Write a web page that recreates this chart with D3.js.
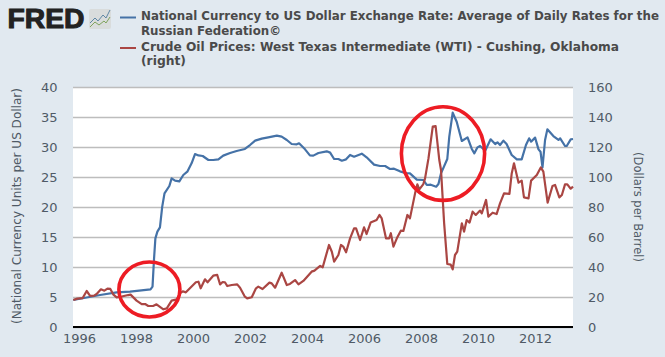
<!DOCTYPE html>
<html>
<head>
<meta charset="utf-8">
<script src="https://cdn.jsdelivr.net/npm/d3@7"></script>
<style>
  html, body { margin: 0; padding: 0; background: #e1e9f0; overflow: hidden; }
  svg { display: block; }
  text { font-family: "DejaVu Sans", sans-serif; }
  .tick text { font-size: 13px; fill: #4f5a66; }
  .axis-title { font-size: 12.5px; fill: #4f5a66; }
  .legend-text { font-size: 12.4px; font-weight: bold; fill: #4a4a4a; }
</style>
</head>
<body>
<svg id="chart"></svg>
<script>
// exchange rate, national currency per US dollar
const rateYears = [1995.8, 1996.74, 1997.32, 1997.79, 1998.51, 1998.58, 1998.63, 1998.68, 1998.75, 1998.84, 1998.92, 1999.0, 1999.17, 1999.25, 1999.37, 1999.52, 1999.66, 1999.8, 1999.95, 2000.07, 2000.19, 2000.34, 2000.54, 2000.71, 2000.89, 2001.06, 2001.3, 2001.53, 2001.82, 2002.0, 2002.18, 2002.41, 2002.64, 2002.94, 2003.11, 2003.29, 2003.46, 2003.64, 2003.72, 2003.93, 2004.1, 2004.22, 2004.4, 2004.69, 2004.81, 2004.95, 2005.1, 2005.22, 2005.37, 2005.51, 2005.65, 2005.92, 2006.09, 2006.35, 2006.56, 2006.74, 2006.91, 2007.05, 2007.26, 2007.44, 2007.61, 2007.85, 2008.08, 2008.2, 2008.34, 2008.53, 2008.61, 2008.7, 2008.92, 2008.99, 2009.11, 2009.25, 2009.43, 2009.63, 2009.78, 2009.87, 2009.98, 2010.07, 2010.25, 2010.44, 2010.6, 2010.68, 2010.77, 2010.89, 2011.0, 2011.18, 2011.36, 2011.53, 2011.68, 2011.79, 2011.86, 2012.0, 2012.12, 2012.19, 2012.26, 2012.35, 2012.43, 2012.64, 2012.82, 2012.88, 2013.05, 2013.11, 2013.25, 2013.33];
const rateValues = [4.5, 5.33, 5.78, 5.89, 6.28, 6.72, 11.17, 14.78, 15.9, 16.6, 20.06, 22.28, 23.5, 24.78, 24.4, 24.28, 25.33, 25.89, 27.28, 28.83, 28.6, 28.5, 27.83, 27.83, 27.94, 28.56, 29.0, 29.33, 29.67, 30.33, 31.06, 31.39, 31.61, 31.89, 31.72, 31.17, 30.5, 30.44, 30.61, 29.61, 28.61, 28.56, 29.0, 29.28, 29.06, 28.0, 28.0, 27.72, 27.94, 28.67, 28.39, 28.89, 28.28, 27.06, 26.83, 26.83, 26.33, 26.39, 25.94, 25.67, 25.61, 24.56, 24.5, 23.67, 23.72, 23.39, 23.83, 25.61, 28.0, 31.72, 35.72, 34.22, 31.0, 31.61, 29.67, 28.94, 29.94, 30.17, 29.39, 31.28, 30.5, 30.78, 30.33, 31.06, 30.5, 28.67, 27.94, 27.94, 30.33, 31.44, 30.89, 31.56, 29.61, 29.22, 26.61, 31.17, 32.94, 31.83, 31.17, 31.44, 30.17, 30.17, 31.28, 31.33];

// WTI crude, dollars per barrel
const oilYears = [1995.8, 1995.94, 1996.13, 1996.27, 1996.39, 1996.53, 1996.62, 1996.77, 1996.89, 1997.0, 1997.1, 1997.2, 1997.32, 1997.5, 1997.73, 1997.81, 1998.02, 1998.2, 1998.32, 1998.43, 1998.6, 1998.72, 1998.96, 1999.08, 1999.25, 1999.43, 1999.54, 1999.64, 1999.75, 1999.89, 2000.1, 2000.19, 2000.27, 2000.42, 2000.51, 2000.71, 2000.85, 2000.95, 2001.04, 2001.12, 2001.2, 2001.36, 2001.55, 2001.65, 2001.82, 2001.9, 2002.06, 2002.21, 2002.29, 2002.44, 2002.68, 2002.76, 2002.88, 2003.11, 2003.29, 2003.4, 2003.58, 2003.7, 2003.87, 2004.16, 2004.26, 2004.46, 2004.55, 2004.77, 2004.87, 2004.95, 2005.1, 2005.19, 2005.27, 2005.37, 2005.51, 2005.65, 2005.72, 2005.86, 2006.0, 2006.09, 2006.23, 2006.44, 2006.54, 2006.62, 2006.77, 2006.88, 2006.94, 2007.03, 2007.15, 2007.29, 2007.38, 2007.52, 2007.61, 2007.79, 2007.87, 2007.94, 2008.08, 2008.14, 2008.26, 2008.41, 2008.51, 2008.64, 2008.7, 2008.81, 2008.92, 2009.04, 2009.11, 2009.19, 2009.27, 2009.43, 2009.51, 2009.6, 2009.7, 2009.81, 2009.92, 2010.07, 2010.13, 2010.28, 2010.36, 2010.51, 2010.65, 2010.77, 2010.91, 2011.1, 2011.18, 2011.26, 2011.42, 2011.53, 2011.61, 2011.77, 2011.86, 2012.06, 2012.2, 2012.29, 2012.44, 2012.61, 2012.7, 2012.85, 2012.94, 2013.05, 2013.13, 2013.25, 2013.33];
const oilValues = [18, 18.9, 19.3, 24, 20.7, 20.9, 22, 25.1, 24.2, 25.6, 25.4, 21.8, 19.8, 20.3, 21.3, 21.6, 17.6, 15.3, 15.3, 14, 14, 15.1, 11.8, 12.4, 17.6, 18.4, 22.4, 23.8, 23.1, 25.8, 29.8, 30.2, 25.8, 31.8, 29.8, 34.2, 34.7, 28.4, 30, 29.8, 27.3, 28, 28.4, 26.2, 20.2, 19.1, 19.8, 25.8, 26.9, 25.3, 29.6, 29.1, 26.2, 36.2, 28, 28.7, 31.3, 28.4, 30.7, 36.9, 37.6, 40.7, 39.8, 54.7, 50.2, 43.6, 48, 54.7, 53.6, 49.8, 59.1, 65.8, 65.8, 58, 66.4, 62, 69.6, 71.3, 74.7, 72.4, 59.1, 59.1, 62.5, 53.6, 59.1, 64.2, 64, 74.7, 72.4, 89.1, 95.1, 91.8, 95.3, 99.1, 112.4, 133.6, 134, 111.3, 104.7, 69.1, 42, 41.6, 38.4, 48, 50.2, 69.1, 63.6, 71.3, 69.6, 76.9, 74.7, 77.6, 75.8, 84.7, 73.6, 76.2, 75.3, 82.4, 89.1, 88.7, 102.4, 109.1, 96.2, 97.6, 86.4, 85.8, 97.6, 101.3, 106.4, 103.6, 82.9, 94, 94.7, 86.4, 88, 95.1, 95.1, 92.2, 93.6];

const legendLines = [
    'National Currency to US Dollar Exchange Rate: Average of Daily Rates for the',
    'Russian Federation©',
    'Crude Oil Prices: West Texas Intermediate (WTI) - Cushing, Oklahoma',
    '(right)'
];
const leftTicks = [0, 5, 10, 15, 20, 25, 30, 35, 40];
const rightTicks = [0, 20, 40, 60, 80, 100, 120, 140, 160];
const yearTicks = [1996, 1998, 2000, 2002, 2004, 2006, 2008, 2010, 2012];

// hand drawn red rings: centre year, centre rate, radius in years, radius in rate units
const ringYears = [1998.47, 2008.77];
const ringValues = [6.25, 28.9];
const ringYearRadius = [1.07, 1.46];
const ringValueRadius = [4.58, 7.8];

const width = 665, height = 357;
const margin = { top: 87, right: 92, bottom: 30, left: 73 };
const innerWidth = width - margin.left - margin.right;
const innerHeight = height - margin.top - margin.bottom;

const svg = d3.select('#chart').attr('width', width).attr('height', height);

// logo
const logo = svg.append('g');
logo.append('text')
    .attr('x', 7.5).attr('y', 28)
    .attr('textLength', 77).attr('lengthAdjust', 'spacingAndGlyphs')
    .style('font-family', '"Liberation Sans"')
    .style('font-size', '27px').style('font-weight', 'bold')
    .style('stroke', '#222').style('stroke-width', 1)
    .style('fill', '#222')
    .text('FRED');
logo.append('rect')
    .attr('x', 89).attr('y', 9).attr('width', 22).attr('height', 20).attr('rx', 2)
    .attr('fill', '#d9dcdc');
logo.append('path')
    .attr('d', 'M90,23L95,18L98,21L103,15L106,18L110,10')
    .attr('fill', 'none').attr('stroke', '#5f87a5').attr('stroke-width', 1);
logo.append('path')
    .attr('d', 'M90,27L95,22L99,25L104,21L106,23L110,17')
    .attr('fill', 'none').attr('stroke', '#7fa35c').attr('stroke-width', 1);

// legend, line widths fitted to the reference font
const legendY = [16, 31, 47, 61];
const legendWidths = [518, 140, 478, 45];
svg.selectAll('.legend-text')
    .data(legendLines)
    .enter()
    .append('text')
    .attr('class', 'legend-text')
    .attr('x', 141)
    .attr('y', (d, i) => legendY[i])
    .attr('dy', '0.35em')
    .attr('textLength', (d, i) => legendWidths[i])
    .attr('lengthAdjust', 'spacingAndGlyphs')
    .text(d => d);
svg.append('line').attr('x1', 120).attr('x2', 136).attr('y1', 17.5).attr('y2', 17.5)
    .attr('stroke', '#4572a7').attr('stroke-width', 2);
svg.append('line').attr('x1', 120).attr('x2', 136).attr('y1', 48).attr('y2', 48)
    .attr('stroke', '#aa4643').attr('stroke-width', 2);

const chart = svg.append('g')
    .attr('transform', `translate(${margin.left},${margin.top})`);

chart.append('rect')
    .attr('width', innerWidth).attr('height', innerHeight)
    .attr('fill', '#fff');

// scales
const xScale = d3.scaleLinear().domain([1995.79, 2013.33]).range([0, innerWidth]);
const yLeft = d3.scaleLinear().domain([0, 40]).range([innerHeight, 0]);
const yRight = d3.scaleLinear().domain([0, 160]).range([innerHeight, 0]);

// left axis with gridlines
chart.append('g')
    .call(d3.axisLeft(yLeft).tickValues(leftTicks).tickSize(-innerWidth).tickPadding(15.5))
    .call(g => g.select('.domain').remove())
    .call(g => g.selectAll('line').attr('stroke', '#bdbdbd').attr('stroke-width', 1.4));

chart.append('g')
    .attr('transform', `translate(${innerWidth},0)`)
    .call(d3.axisRight(yRight).tickValues(rightTicks).tickSize(0).tickPadding(15))
    .call(g => g.select('.domain').remove());

chart.append('g')
    .attr('transform', `translate(0,${innerHeight})`)
    .call(d3.axisBottom(xScale).tickValues(yearTicks).tickFormat(d3.format('d')).tickSize(0).tickPadding(7))
    .call(g => g.select('.domain').remove());

// axis titles
svg.append('text')
    .attr('class', 'axis-title')
    .attr('transform', 'translate(17,206) rotate(-90)')
    .attr('text-anchor', 'middle').attr('dy', '0.35em')
    .attr('textLength', 236).attr('lengthAdjust', 'spacingAndGlyphs')
    .text('(National Currency Units per US Dollar)');
svg.append('text')
    .attr('class', 'axis-title')
    .attr('transform', 'translate(638,207) rotate(90)')
    .attr('text-anchor', 'middle').attr('dy', '0.35em')
    .attr('textLength', 110).attr('lengthAdjust', 'spacingAndGlyphs')
    .text('(Dollars per Barrel)');

// series
const rateLine = d3.line()
    .x((d, i) => xScale(rateYears[i]))
    .y(d => yLeft(d));
const oilLine = d3.line()
    .x((d, i) => xScale(oilYears[i]))
    .y(d => yRight(d));

chart.append('path')
    .datum(rateValues)
    .attr('d', rateLine)
    .attr('fill', 'none').attr('stroke', '#4572a7').attr('stroke-width', 2.2).attr('stroke-linejoin', 'round');
chart.append('path')
    .datum(oilValues)
    .attr('d', oilLine)
    .attr('fill', 'none').attr('stroke', '#aa4643').attr('stroke-width', 2.2).attr('stroke-linejoin', 'round');

// baseline on top of the series
chart.append('line')
    .attr('x1', 0).attr('x2', innerWidth)
    .attr('y1', innerHeight).attr('y2', innerHeight)
    .attr('stroke', '#000').attr('stroke-width', 2);

// red rings
chart.selectAll('.ring')
    .data(ringYears)
    .enter()
    .append('ellipse')
    .attr('class', 'ring')
    .attr('cx', d => xScale(d))
    .attr('cy', (d, i) => yLeft(ringValues[i]))
    .attr('rx', (d, i) => xScale(d + ringYearRadius[i]) - xScale(d))
    .attr('ry', (d, i) => yLeft(0) - yLeft(ringValueRadius[i]))
    .attr('fill', 'none')
    .attr('stroke', '#ed1c24')
    .attr('stroke-width', 3.6);
</script>
</body>
</html>
